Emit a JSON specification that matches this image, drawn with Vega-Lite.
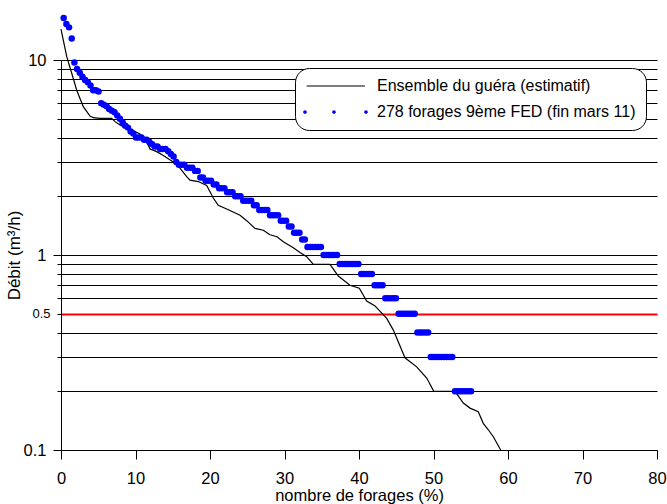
{
  "$schema": "https://vega.github.io/schema/vega-lite/v6.json",
  "width": 596,
  "height": 390,
  "autosize": "none",
  "padding": {"left": 61, "top": 60, "right": 10, "bottom": 54},
  "background": "white",
  "config": {
    "view": {"stroke": null},
    "font": "Liberation Sans",
    "axis": {
      "domainColor": "black", "tickColor": "black", "labelColor": "black", "titleColor": "black",
      "labelFont": "Liberation Sans", "titleFont": "Liberation Sans", "domainWidth": 1, "tickWidth": 1
    }
  },
  "layer": [
    {
      "data": {"values": [
        {"p":0,"d":14.4},{"p":0.77,"d":10.4},{"p":1.44,"d":8.55},{"p":2.11,"d":7.0},{"p":2.99,"d":5.76},
        {"p":3.89,"d":5.16},{"p":4.34,"d":5.06},{"p":5.23,"d":5.02},{"p":6.81,"d":5.02},{"p":7.25,"d":4.83},
        {"p":7.92,"d":4.64},{"p":8.82,"d":4.46},{"p":9.93,"d":4.29},{"p":10.6,"d":4.17},{"p":11.28,"d":3.97},
        {"p":11.95,"d":3.5},{"p":12.85,"d":3.39},{"p":13.73,"d":3.24},{"p":15.07,"d":3.0},{"p":15.97,"d":2.79},
        {"p":16.87,"d":2.52},{"p":17.32,"d":2.42},{"p":18.43,"d":2.38},{"p":19.56,"d":2.27},{"p":20.44,"d":1.96},
        {"p":21.11,"d":1.8},{"p":22.24,"d":1.72},{"p":24.03,"d":1.6},{"p":24.93,"d":1.5},{"p":26.04,"d":1.37},
        {"p":27.15,"d":1.34},{"p":28.05,"d":1.27},{"p":28.99,"d":1.24},{"p":29.84,"d":1.17},{"p":31.18,"d":1.09},
        {"p":32.08,"d":1.03},{"p":32.98,"d":0.98},{"p":33.87,"d":0.896},{"p":36.11,"d":0.896},{"p":37.22,"d":0.78},
        {"p":38.79,"d":0.7},{"p":40.04,"d":0.675},{"p":41.03,"d":0.58},{"p":42.15,"d":0.548},{"p":43.72,"d":0.473},
        {"p":44.61,"d":0.412},{"p":46.17,"d":0.297},{"p":47.74,"d":0.267},{"p":49.09,"d":0.234},{"p":50.04,"d":0.2},
        {"p":52.89,"d":0.2},{"p":54.0,"d":0.174},{"p":54.9,"d":0.164},{"p":56.01,"d":0.157},{"p":56.68,"d":0.137},
        {"p":57.36,"d":0.127},{"p":58.03,"d":0.117},{"p":59.02,"d":0.1}
      ]},
      "mark": {"type": "line", "strokeWidth": 1.2, "clip": false},
      "encoding": {
        "x": {
          "field": "p", "type": "quantitative",
          "scale": {"domain": [0, 80], "nice": false, "zero": false},
          "axis": {
            "title": "nombre de forages (%)", "titleFontSize": 16.5, "titleFontWeight": "normal", "titlePadding": 1,
            "values": [0,5,10,15,20,25,30,35,40,45,50,55,60,65,70,75,80],
            "labelExpr": "datum.value % 10 == 0 ? datum.label : ''",
            "tickSize": {"condition": {"test": "datum.value % 10 == 0", "value": 9}, "value": 5},
            "labelPadding": 11, "labelFontSize": 16.5, "grid": false, "labelFlush": false, "labelOverlap": false
          }
        },
        "y": {
          "field": "d", "type": "quantitative",
          "scale": {"type": "log", "domain": [0.1, 10], "nice": false},
          "axis": {
            "title": "Débit (m³/h)", "titleFontSize": 17, "titleFontWeight": "normal", "titlePadding": 0,
            "values": [0.1,0.2,0.3,0.4,0.5,0.6,0.7,0.8,0.9,1,2,3,4,5,6,7,8,9,10],
            "format": "~g",
            "labelExpr": "(datum.value == 0.1 || datum.value == 0.5 || datum.value == 1 || datum.value == 10) ? datum.label : ''",
            "labelFontSize": {"condition": {"test": "datum.value == 0.5", "value": 13}, "value": 16.5},
            "labelPadding": {"condition": {"test": "datum.value == 0.5", "value": 7}, "value": 7},
            "tickSize": {"condition": {"test": "datum.value == 0.1 || datum.value == 1 || datum.value == 10", "value": 8}, "value": 4},
            "grid": true,
            "gridColor": {"condition": {"test": "datum.value == 0.5", "value": "#ff0000"}, "value": "#000000"},
            "gridWidth": {"condition": {"test": "datum.value == 0.5", "value": 2}, "value": 1},
            "gridOpacity": 1,
            "labelOverlap": false, "labelFlush": false
          }
        },
        "color": {
          "datum": "Ensemble du guéra (estimatif)",
          "scale": {"domain": ["Ensemble du guéra (estimatif)", "278 forages 9ème FED (fin mars 11)"], "range": ["#000000", "#0000ff"]},
          "legend": {
            "title": null, "orient": "none", "legendX": 234, "legendY": 8, "direction": "vertical",
            "labelFontSize": 16, "labelFont": "Liberation Sans", "labelColor": "black", "labelLimit": 0,
            "symbolSize": 256, "labelOffset": 56, "rowPadding": 10, "padding": 10,
            "strokeColor": "black", "fillColor": "white", "cornerRadius": 14,
            "encode": {
              "symbols": {"update": {
                "shape": {"signal": "datum.value === 'Ensemble du guéra (estimatif)' ? 'M-0.79,-0.07H6.5V0.07H-0.79Z' : 'M-1.23,0A0.23,0.23,0,1,0,-0.77,0A0.23,0.23,0,1,0,-1.23,0ZM2.395,0A0.23,0.23,0,1,0,2.855,0A0.23,0.23,0,1,0,2.395,0ZM6.395,0A0.23,0.23,0,1,0,6.855,0A0.23,0.23,0,1,0,6.395,0Z'"},
                "fill": {"signal": "datum.value === 'Ensemble du guéra (estimatif)' ? '#000000' : '#0000ff'"},
                "stroke": {"value": "transparent"},
                "strokeWidth": {"value": 0},
                "opacity": {"value": 1}
              }}
            }
          }
        }
      }
    },
    {
      "data": {"values": [
        {"p":0.36,"d":16.4},{"p":0.72,"d":15.3},{"p":1.08,"d":14.7},{"p":1.44,"d":12.9},{"p":1.80,"d":9.7},
        {"p":2.16,"d":9.0},{"p":2.52,"d":8.6},{"p":2.88,"d":8.2},{"p":3.24,"d":7.9},{"p":3.60,"d":7.7},
        {"p":3.96,"d":7.4},{"p":4.32,"d":7.0},{"p":4.68,"d":7.0},{"p":5.04,"d":6.9},{"p":5.40,"d":6.0},
        {"p":5.76,"d":5.9},{"p":6.12,"d":5.8},{"p":6.47,"d":5.6},{"p":6.83,"d":5.5},{"p":7.19,"d":5.4},
        {"p":7.55,"d":5.2},{"p":7.91,"d":5.0},{"p":8.27,"d":4.8},{"p":8.63,"d":4.6},{"p":8.99,"d":4.5},
        {"p":9.35,"d":4.3},{"p":9.71,"d":4.2},{"p":10.07,"d":4.0},{"p":10.43,"d":4.0},{"p":10.79,"d":4.0},
        {"p":11.15,"d":3.9},{"p":11.51,"d":3.9},{"p":11.87,"d":3.8},{"p":12.23,"d":3.7},{"p":12.59,"d":3.6},
        {"p":12.95,"d":3.6},{"p":13.31,"d":3.5},{"p":13.67,"d":3.5},{"p":14.03,"d":3.5},{"p":14.39,"d":3.4},
        {"p":14.75,"d":3.3},{"p":15.11,"d":3.2},{"p":15.47,"d":3.0},{"p":15.83,"d":2.9},{"p":16.19,"d":2.9},
        {"p":16.55,"d":2.9},{"p":16.91,"d":2.8},{"p":17.27,"d":2.8},{"p":17.63,"d":2.8},{"p":17.99,"d":2.7},
        {"p":18.35,"d":2.7},{"p":18.71,"d":2.5},{"p":19.06,"d":2.5},{"p":19.42,"d":2.4},{"p":19.78,"d":2.4},
        {"p":20.14,"d":2.4},{"p":20.50,"d":2.3},{"p":20.86,"d":2.3},{"p":21.22,"d":2.2},{"p":21.58,"d":2.2},
        {"p":21.94,"d":2.2},{"p":22.30,"d":2.1},{"p":22.66,"d":2.1},{"p":23.02,"d":2.1},{"p":23.38,"d":2.0},
        {"p":23.74,"d":2.0},{"p":24.10,"d":2.0},{"p":24.46,"d":1.9},{"p":24.82,"d":1.9},{"p":25.18,"d":1.9},
        {"p":25.54,"d":1.9},{"p":25.90,"d":1.8},{"p":26.26,"d":1.8},{"p":26.62,"d":1.7},{"p":26.98,"d":1.7},
        {"p":27.34,"d":1.7},{"p":27.70,"d":1.7},{"p":28.06,"d":1.6},{"p":28.42,"d":1.6},{"p":28.78,"d":1.6},
        {"p":29.14,"d":1.6},{"p":29.50,"d":1.5},{"p":29.86,"d":1.5},{"p":30.22,"d":1.5},{"p":30.58,"d":1.4},
        {"p":30.94,"d":1.4},{"p":31.29,"d":1.3},{"p":31.65,"d":1.3},{"p":32.01,"d":1.3},{"p":32.37,"d":1.2},
        {"p":32.73,"d":1.2},{"p":33.09,"d":1.1},{"p":33.45,"d":1.1},{"p":33.81,"d":1.1},{"p":34.17,"d":1.1},
        {"p":34.53,"d":1.1},{"p":34.89,"d":1.1},{"p":35.25,"d":1.0},{"p":35.61,"d":1.0},{"p":35.97,"d":1.0},
        {"p":36.33,"d":1.0},{"p":36.69,"d":1.0},{"p":37.05,"d":1.0},{"p":37.41,"d":0.9},{"p":37.77,"d":0.9},
        {"p":38.13,"d":0.9},{"p":38.49,"d":0.9},{"p":38.85,"d":0.9},{"p":39.21,"d":0.9},{"p":39.57,"d":0.9},
        {"p":39.93,"d":0.9},{"p":40.29,"d":0.8},{"p":40.65,"d":0.8},{"p":41.01,"d":0.8},{"p":41.37,"d":0.8},
        {"p":41.73,"d":0.8},{"p":42.09,"d":0.7},{"p":42.45,"d":0.7},{"p":42.81,"d":0.7},{"p":43.17,"d":0.7},
        {"p":43.53,"d":0.6},{"p":43.88,"d":0.6},{"p":44.24,"d":0.6},{"p":44.60,"d":0.6},{"p":44.96,"d":0.6},
        {"p":45.32,"d":0.5},{"p":45.68,"d":0.5},{"p":46.04,"d":0.5},{"p":46.40,"d":0.5},{"p":46.76,"d":0.5},
        {"p":47.12,"d":0.5},{"p":47.48,"d":0.5},{"p":47.84,"d":0.4},{"p":48.20,"d":0.4},{"p":48.56,"d":0.4},
        {"p":48.92,"d":0.4},{"p":49.28,"d":0.4},{"p":49.64,"d":0.3},{"p":50.00,"d":0.3},{"p":50.36,"d":0.3},
        {"p":50.72,"d":0.3},{"p":51.08,"d":0.3},{"p":51.44,"d":0.3},{"p":51.80,"d":0.3},{"p":52.16,"d":0.3},
        {"p":52.52,"d":0.3},{"p":52.88,"d":0.2},{"p":53.24,"d":0.2},{"p":53.60,"d":0.2},{"p":53.96,"d":0.2},
        {"p":54.32,"d":0.2},{"p":54.68,"d":0.2},{"p":55.04,"d":0.2}
      ]},
      "mark": {"type": "point", "filled": true, "size": 42, "opacity": 1, "clip": false},
      "encoding": {
        "x": {"field": "p", "type": "quantitative"},
        "y": {"field": "d", "type": "quantitative"},
        "color": {"datum": "278 forages 9ème FED (fin mars 11)"}
      }
    }
  ]
}
